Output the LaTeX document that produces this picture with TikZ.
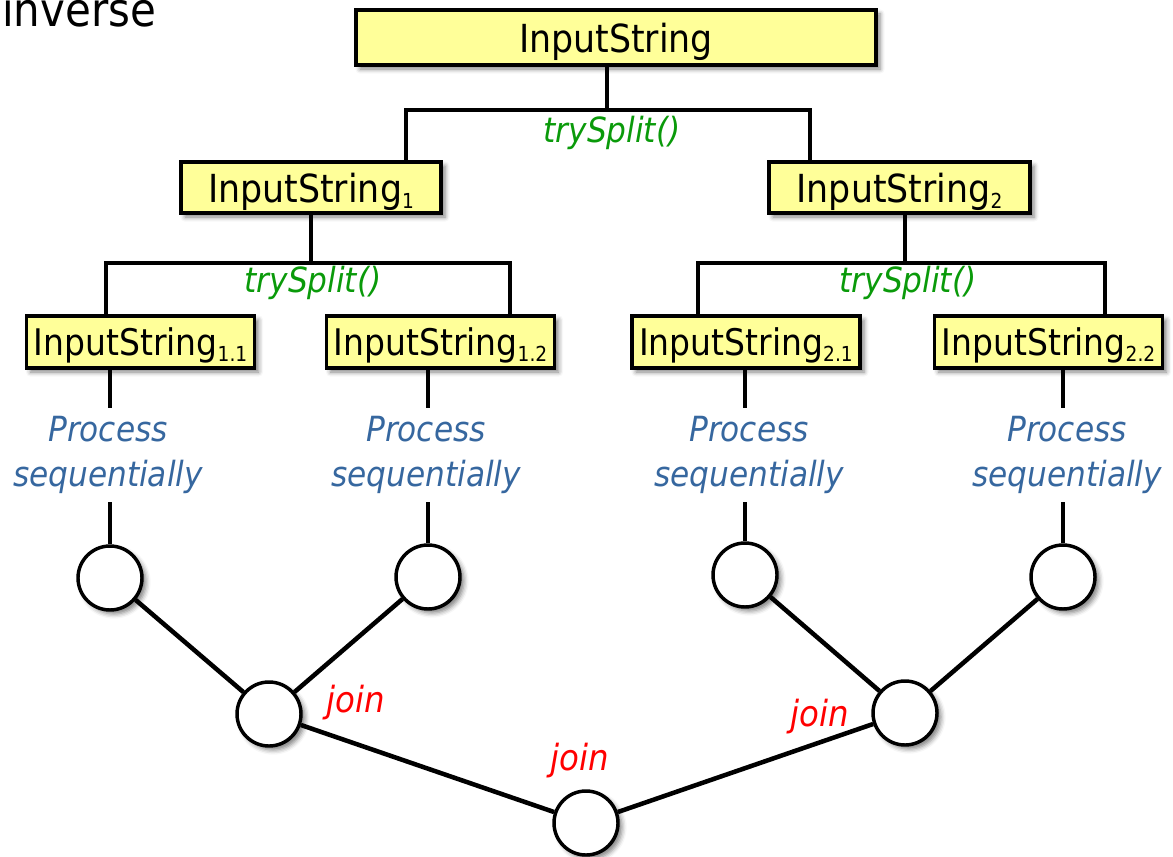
\documentclass[tikz,border=0pt]{standalone}
\usepackage{fontspec}
\setmainfont{DejaVu Sans}[FakeStretch=0.9]
\usetikzlibrary{shadows.blur}
\definecolor{boxyellow}{HTML}{FFFF99}
\definecolor{splitgreen}{HTML}{0A9A0A}
\definecolor{procblue}{HTML}{36679F}
\definecolor{joinred}{HTML}{FF0000}
\newcommand\subs[1]{\raisebox{-4.5pt}{\fontsize{15.5}{16}\selectfont #1}}
\begin{document}
\begin{tikzpicture}[x=0.75pt,y=-0.75pt,
  shad/.style={blur shadow={shadow xshift=3pt, shadow yshift=-3pt, shadow blur radius=3.5pt, shadow opacity=50}},
  box/.style={draw=black, line width=2.6pt, fill=boxyellow, inner sep=0pt, text depth=0pt, shad},
  bigbox/.style={box, font=\fontsize{29}{34}\selectfont},
  smallbox/.style={box, font=\fontsize{27.5}{32}\selectfont, minimum width=171pt, minimum height=39pt},
  conn/.style={draw=black, line width=3.4pt},
  circ/.style={circle, draw=black, line width=2.6pt, fill=white, minimum size=48pt, inner sep=0pt, shad},
  split/.style={text=splitgreen, font=\fontsize{26}{30}\selectfont\itshape, anchor=base},
  proc/.style={text=procblue, font=\fontsize{26}{33.75}\selectfont\itshape, align=center, inner xsep=0pt, inner ysep=6pt},
  joinlbl/.style={text=joinred, font=\fontsize{27}{30}\selectfont\itshape, anchor=base}]
\useasboundingbox (0,0) rectangle (1173,856);

% title fragment
\node[anchor=base west, inner sep=0pt, font=\fontsize{35}{40}\selectfont] (inv) at (2,27) {inverse};

% boxes
\node[bigbox, minimum width=390pt, minimum height=41.25pt] (top) at (616,37.5) {InputString};
\node[bigbox, minimum width=195pt, minimum height=38.25pt] (l1a) at (311,187.5) {InputString\subs{1}};
\node[bigbox, minimum width=195.75pt, minimum height=38.25pt] (l1b) at (899.5,187.5) {InputString\subs{2}};
\node[smallbox] (l2a) at (140.5,342) {InputString\subs{1.1}};
\node[smallbox] (l2b) at (440.5,342) {InputString\subs{1.2}};
\node[smallbox] (l2c) at (746,342) {InputString\subs{2.1}};
\node[smallbox] (l2d) at (1048.5,342) {InputString\subs{2.2}};

% split labels
\node[split] (s0) at (612,142) {trySplit()};
\node[split] (s1) at (313,292) {trySplit()};
\node[split] (s2) at (908,292) {trySplit()};

% tree connectors
\coordinate (t0) at (607,110);
\coordinate (ta) at (406,110);
\coordinate (tb) at (810,110);
\draw[conn] (top.south -| t0) -- (t0);
\draw[conn] (l1a.north -| ta) -- (ta) -- (tb) -- (l1b.north -| tb);

\coordinate (u0) at (311,263);
\coordinate (ua) at (106,263);
\coordinate (ub) at (510,263);
\draw[conn] (l1a.south -| u0) -- (u0);
\draw[conn] (l2a.north -| ua) -- (ua) -- (ub) -- (l2b.north -| ub);

\coordinate (v0) at (905,263);
\coordinate (va) at (698,263);
\coordinate (vb) at (1105,263);
\draw[conn] (l1b.south -| v0) -- (v0);
\draw[conn] (l2c.north -| va) -- (va) -- (vb) -- (l2d.north -| vb);

% process labels
\node[proc] (p1) at (108,455) {Process\\sequentially};
\node[proc] (p2) at (426,455) {Process\\sequentially};
\node[proc] (p3) at (749,455) {Process\\sequentially};
\node[proc] (p4) at (1067,455) {Process\\sequentially};

% circles
\node[circ] (c1) at (110,578) {};
\node[circ] (c2) at (428,577) {};
\node[circ] (c3) at (745,575) {};
\node[circ] (c4) at (1063,577) {};
\node[circ] (j1) at (269,714) {};
\node[circ] (j2) at (905,713) {};
\node[circ] (jr) at (586,823) {};

% stems
\draw[conn] (l2a.south -| c1) -- (p1.north -| c1);
\draw[conn] (p1.south -| c1) -- (c1.north);
\draw[conn] (l2b.south -| c2) -- (p2.north -| c2);
\draw[conn] (p2.south -| c2) -- (c2.north);
\draw[conn] (l2c.south -| c3) -- (p3.north -| c3);
\draw[conn] (p3.south -| c3) -- (c3.north);
\draw[conn] (l2d.south -| c4) -- (p4.north -| c4);
\draw[conn] (p4.south -| c4) -- (c4.north);

% join connectors
\draw[conn] (c1) -- (j1);
\draw[conn] (c2) -- (j1);
\draw[conn] (c3) -- (j2);
\draw[conn] (c4) -- (j2);
\draw[conn] (j1) -- (jr);
\draw[conn] (j2) -- (jr);

% join labels
\node[joinlbl] (jl1) at (356,712) {join};
\node[joinlbl] (jl2) at (820,726) {join};
\node[joinlbl] (jl3) at (580,770) {join};
\end{tikzpicture}
\end{document}
